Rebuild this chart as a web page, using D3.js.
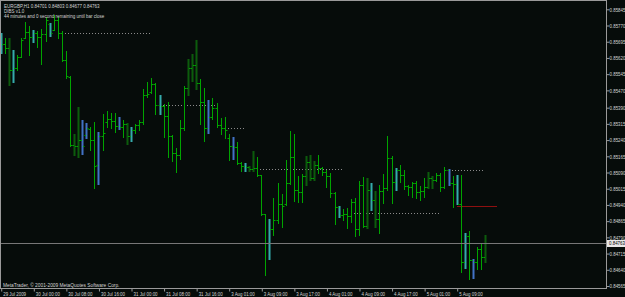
<!DOCTYPE html>
<html>
<head>
<meta charset="utf-8">
<script src="https://cdn.jsdelivr.net/npm/d3@7"></script>
<style>
	html, body { margin: 0; padding: 0; background: #060c0a; }
	svg { display: block; font-family: 'Liberation Sans', Arial, sans-serif; }
</style>
</head>
<body>
<svg id="chart" width="625" height="297"></svg>
<script>
// EURGBP H1 bars
const opens = [
	0.85712, 0.85684, 0.85666, 0.85564, 0.85573, 0.85624, 0.85712, 0.85740, 0.85717, 0.85735,
	0.85717, 0.85731, 0.85777, 0.85749, 0.85795, 0.85735, 0.85610, 0.85532, 0.85217, 0.85212,
	0.85240, 0.85263, 0.85291, 0.85240, 0.85124, 0.85258, 0.85323, 0.85337, 0.85328, 0.85305,
	0.85300, 0.85314, 0.85258, 0.85286, 0.85309, 0.85323, 0.85448, 0.85462, 0.85499, 0.85402,
	0.85397, 0.85351, 0.85258, 0.85180, 0.85170, 0.85295, 0.85481, 0.85573, 0.85587, 0.85504,
	0.85416, 0.85295, 0.85346, 0.85388, 0.85309, 0.85295, 0.85249, 0.85212, 0.85207, 0.85133,
	0.85119, 0.85115, 0.85106, 0.85110, 0.85078, 0.84897, 0.84763, 0.84828, 0.84869, 0.84944,
	0.84944, 0.85041, 0.85161, 0.85008, 0.84999, 0.85073, 0.85138, 0.85064, 0.85124, 0.85110,
	0.85092, 0.85073, 0.84994, 0.84930, 0.84892, 0.84897, 0.84888, 0.84953, 0.84828, 0.85031,
	0.84842, 0.85008, 0.84962, 0.84874, 0.85004, 0.85018, 0.85156, 0.85045, 0.85101, 0.85078,
	0.85027, 0.85022, 0.85041, 0.84999, 0.85004, 0.85022, 0.85064, 0.85055, 0.85078, 0.85022,
	0.85101, 0.85041, 0.85036, 0.84944, 0.84675, 0.84795, 0.84684, 0.84675, 0.84735, 0.84701
];
const highs = [
	0.85735, 0.85712, 0.85712, 0.85656, 0.85633, 0.85712, 0.85786, 0.85768, 0.85749, 0.85745,
	0.85754, 0.85809, 0.85782, 0.85819, 0.85809, 0.85745, 0.85652, 0.85536, 0.85268, 0.85393,
	0.85332, 0.85319, 0.85300, 0.85323, 0.85277, 0.85360, 0.85374, 0.85365, 0.85365, 0.85346,
	0.85332, 0.85319, 0.85300, 0.85314, 0.85332, 0.85476, 0.85508, 0.85527, 0.85504, 0.85448,
	0.85407, 0.85416, 0.85263, 0.85203, 0.85332, 0.85490, 0.85615, 0.85638, 0.85703, 0.85522,
	0.85481, 0.85425, 0.85434, 0.85411, 0.85342, 0.85346, 0.85268, 0.85254, 0.85231, 0.85138,
	0.85133, 0.85119, 0.85189, 0.85161, 0.85078, 0.84897, 0.84874, 0.84971, 0.85041, 0.84990,
	0.85147, 0.85282, 0.85268, 0.85073, 0.85082, 0.85166, 0.85170, 0.85143, 0.85170, 0.85115,
	0.85101, 0.85087, 0.84999, 0.84934, 0.84920, 0.84925, 0.84967, 0.84971, 0.85050, 0.85069,
	0.85064, 0.85041, 0.85004, 0.85031, 0.85082, 0.85258, 0.85166, 0.85110, 0.85124, 0.85101,
	0.85031, 0.85045, 0.85050, 0.85027, 0.85064, 0.85092, 0.85073, 0.85087, 0.85087, 0.85115,
	0.85106, 0.85073, 0.85078, 0.85078, 0.84809, 0.84819, 0.84689, 0.84744, 0.84763, 0.84803
];
const lows = [
	0.85643, 0.85643, 0.85494, 0.85508, 0.85564, 0.85624, 0.85712, 0.85633, 0.85694, 0.85670,
	0.85592, 0.85698, 0.85721, 0.85749, 0.85712, 0.85606, 0.85527, 0.85212, 0.85170, 0.85161,
	0.85175, 0.85249, 0.85194, 0.85018, 0.85036, 0.85194, 0.85300, 0.85295, 0.85277, 0.85291,
	0.85254, 0.85221, 0.85235, 0.85272, 0.85286, 0.85314, 0.85439, 0.85457, 0.85360, 0.85360,
	0.85254, 0.85161, 0.85143, 0.85092, 0.85152, 0.85286, 0.85448, 0.85513, 0.85476, 0.85314,
	0.85235, 0.85272, 0.85337, 0.85300, 0.85268, 0.85249, 0.85147, 0.85152, 0.85129, 0.85096,
	0.85096, 0.85096, 0.85096, 0.85073, 0.84892, 0.84615, 0.84689, 0.84800, 0.84856, 0.84837,
	0.84939, 0.85036, 0.84957, 0.84953, 0.84953, 0.85031, 0.85055, 0.85055, 0.85087, 0.85078,
	0.85022, 0.84976, 0.84851, 0.84883, 0.84869, 0.84832, 0.84860, 0.84795, 0.84800, 0.84837,
	0.84832, 0.84916, 0.84837, 0.84809, 0.84948, 0.85008, 0.84948, 0.85008, 0.85045, 0.85013,
	0.84985, 0.84976, 0.84971, 0.84962, 0.84976, 0.85018, 0.85018, 0.85050, 0.85004, 0.85018,
	0.85031, 0.84930, 0.84944, 0.84629, 0.84647, 0.84596, 0.84601, 0.84643, 0.84643, 0.84677
];
const closes = [
	0.85684, 0.85666, 0.85564, 0.85573, 0.85624, 0.85703, 0.85740, 0.85717, 0.85735, 0.85717,
	0.85731, 0.85795, 0.85735, 0.85795, 0.85735, 0.85610, 0.85536, 0.85217, 0.85212, 0.85240,
	0.85212, 0.85295, 0.85240, 0.85119, 0.85258, 0.85272, 0.85337, 0.85328, 0.85305, 0.85300,
	0.85314, 0.85258, 0.85286, 0.85309, 0.85323, 0.85448, 0.85453, 0.85499, 0.85402, 0.85397,
	0.85351, 0.85258, 0.85180, 0.85170, 0.85295, 0.85481, 0.85573, 0.85587, 0.85504, 0.85416,
	0.85295, 0.85346, 0.85388, 0.85309, 0.85295, 0.85286, 0.85212, 0.85207, 0.85133, 0.85119,
	0.85115, 0.85106, 0.85110, 0.85078, 0.84897, 0.84763, 0.84828, 0.84869, 0.84944, 0.84934,
	0.85041, 0.85161, 0.85008, 0.84999, 0.85073, 0.85138, 0.85064, 0.85124, 0.85110, 0.85092,
	0.85073, 0.84994, 0.84930, 0.84892, 0.84897, 0.84888, 0.84953, 0.84828, 0.85031, 0.84842,
	0.85008, 0.84962, 0.84874, 0.85004, 0.85018, 0.85156, 0.85045, 0.85101, 0.85078, 0.85027,
	0.85022, 0.85041, 0.84999, 0.85004, 0.85022, 0.85064, 0.85055, 0.85078, 0.85022, 0.85101,
	0.85041, 0.85036, 0.84944, 0.84675, 0.84795, 0.84684, 0.84675, 0.84735, 0.84698, 0.84763
];

// bars painted by the DIBS indicator
const insideBarsTeal = [0, 3, 8, 12, 32, 39, 60, 66, 83, 91, 97, 112, 114];
const insideBarsBlue = [20, 21, 24, 29, 51, 57, 110, 116];
const darkBars = [2, 18, 19, 31, 46, 47, 48, 61, 62, 75, 76, 77, 90, 92, 105, 106, 119];

// dotted DIBS levels
const levelFrom = [15, 39, 55, 63, 86, 110];
const levelTo = [37, 53, 60, 84, 108, 119];
const levelPrice = [0.85735, 0.85402, 0.85295, 0.85106, 0.84902, 0.85101];

// red signal line
const signalFrom = 112;
const signalTo = 122;
const signalPrice = 0.84937;

const lastPrice = 0.84763;

const priceTicks = [
	0.85845, 0.85770, 0.85695, 0.85620, 0.85545, 0.85470, 0.85390, 0.85315, 0.85240,
	0.85165, 0.85090, 0.85015, 0.84940, 0.84865, 0.84790, 0.84715, 0.84640, 0.84565
];
const timeTickBars = [0, 8, 16, 24, 32, 40, 48, 56, 64, 72, 80, 88, 96, 104, 112];
const timeTickLabels = [
	'29 Jul 2009', '30 Jul 00:00', '30 Jul 08:00', '30 Jul 16:00', '31 Jul 00:00',
	'31 Jul 08:00', '31 Jul 16:00', '3 Aug 01:00', '3 Aug 09:00', '3 Aug 17:00',
	'4 Aug 01:00', '4 Aug 09:00', '4 Aug 17:00', '5 Aug 01:00', '5 Aug 09:00'
];

const headerLines = [
	'EURGBP,H1  0.84701 0.84803 0.84677 0.84763',
	'DIBS v1.0',
	'44 minutes and 0 second remaining until bar close'
];
const copyright = 'MetaTrader, \u00a9 2001-2009 MetaQuotes Software Corp.';

const colors = {
	bg: '#060c0a',
	frame: '#9a9a9a',
	text: '#d4d4d4',
	bar: '#00a400',
	dark: '#0c5c0c',
	teal: '#35abab',
	blue: '#4272c6',
	level: '#8a8a8a',
	signal: '#8e1010',
	bid: '#777777'
};

const TXT_SCALE = 0.82;

class TerminalChart {
	constructor(params) {
		this.canvas = d3.select(params.el);
		this.width = params.width;
		this.height = params.height;
		this.right = 606;
		this.bottom = 288;

		this.xScale = d3.scaleLinear().domain([0, 119]).range([0.73, 485.2]);
		this.yScale = d3.scaleLinear().domain([0.84565, 0.85845]).range([286, 9.3]);

		this.canvas.append('rect')
			.attr('width', this.width)
			.attr('height', this.height)
			.attr('fill', colors.bg);

		this.canvas.append('defs').append('clipPath')
			.attr('id', 'plotClip')
			.append('rect')
			.attr('x', 1).attr('y', 1)
			.attr('width', this.right - 1)
			.attr('height', this.bottom - 1);

		this.plot = this.canvas.append('g').attr('clip-path', 'url(#plotClip)');
	}

	col(i) { return Math.round(this.xScale(i)); }
	row(p) { return Math.round(this.yScale(p)); }

	paintGraph() {
		this.paintLevels();
		this.paintBars();
		this.paintBidLine();
		this.paintFrame();
		this.paintAxis();
		this.paintTexts();
	}

	paintLevels() {
		this.plot.append('g').selectAll('line')
			.data(levelPrice)
			.join('line')
			.attr('x1', (d, k) => this.col(levelFrom[k]))
			.attr('x2', (d, k) => this.col(levelTo[k]))
			.attr('y1', d => this.row(d) + 0.5)
			.attr('y2', d => this.row(d) + 0.5)
			.attr('stroke', colors.level)
			.attr('stroke-width', 1)
			.attr('stroke-dasharray', '1,2');

		this.plot.append('line')
			.attr('x1', this.col(signalFrom))
			.attr('x2', this.col(signalTo))
			.attr('y1', this.row(signalPrice) + 0.5)
			.attr('y2', this.row(signalPrice) + 0.5)
			.attr('stroke', colors.signal)
			.attr('stroke-width', 1);
	}

	paintBars() {
		const bars = d3.range(opens.length).map(i => ({
			i,
			o: opens[i], h: highs[i], l: lows[i], c: closes[i],
			kind: insideBarsTeal.includes(i) ? 'teal'
				: insideBarsBlue.includes(i) ? 'blue'
				: darkBars.includes(i) ? 'dark' : 'bar'
		}));

		const g = this.plot.append('g').attr('class', 'bars')
			.selectAll('g')
			.data(bars)
			.join('g');

		g.append('rect')
			.attr('x', d => d.kind === 'bar' ? this.col(d.i) : this.col(d.i) - 0.5)
			.attr('width', d => d.kind === 'bar' ? 1 : 2)
			.attr('y', d => this.row(d.h))
			.attr('height', d => this.row(d.l) - this.row(d.h) + 1)
			.attr('fill', d => colors[d.kind]);

		g.append('rect')
			.attr('x', d => this.col(d.i) - 1.5)
			.attr('width', 1.5)
			.attr('y', d => this.row(d.o))
			.attr('height', 1)
			.attr('fill', colors.bar);

		g.append('rect')
			.attr('x', d => this.col(d.i) + 1)
			.attr('width', 1.5)
			.attr('y', d => this.row(d.c))
			.attr('height', 1)
			.attr('fill', colors.bar);
	}

	paintBidLine() {
		this.plot.append('line')
			.attr('x1', 1).attr('x2', this.right)
			.attr('y1', this.row(lastPrice) + 0.5)
			.attr('y2', this.row(lastPrice) + 0.5)
			.attr('stroke', colors.bid)
			.attr('stroke-width', 1);
	}

	paintFrame() {
		this.canvas.append('rect')
			.attr('x', 0.5).attr('y', 0.5)
			.attr('width', this.right)
			.attr('height', this.bottom)
			.attr('fill', 'none')
			.attr('stroke', colors.frame)
			.attr('stroke-width', 1);
	}

	paintAxis() {
		const yAxis = d3.axisRight(this.yScale)
			.tickValues(priceTicks)
			.tickSize(3)
			.tickPadding(0)
			.tickFormat(d3.format('.5f'));

		const Yaxis = this.canvas.append('g')
			.attr('transform', `translate(${this.right + 0.5},0)`)
			.call(yAxis);

		Yaxis.select('.domain').remove();
		Yaxis.selectAll('.tick line').attr('stroke', colors.frame);
		Yaxis.selectAll('.tick text')
			.attr('x', 3 / TXT_SCALE)
			.attr('transform', `scale(${TXT_SCALE},1)`)
			.attr('fill', colors.text)
			.attr('font-size', 5.4)
			.attr('font-family', 'Liberation Sans, Arial, sans-serif');

		// current price tag
		const tagY = this.row(lastPrice) + 0.5;
		this.canvas.append('rect')
			.attr('x', this.right + 1)
			.attr('y', tagY - 3.5)
			.attr('width', this.width - this.right - 1)
			.attr('height', 7)
			.attr('fill', '#e8e8e8');
		this.canvas.append('text')
			.attr('transform', `translate(${this.right + 3},${tagY}) scale(${TXT_SCALE},1)`)
			.attr('dy', '0.34em')
			.attr('font-size', 5.4)
			.attr('fill', '#000')
			.text(d3.format('.5f')(lastPrice));

		const xAxis = d3.axisBottom(this.xScale)
			.tickValues(timeTickBars)
			.tickSize(3)
			.tickPadding(1)
			.tickFormat((d, k) => timeTickLabels[k]);

		const Xaxis = this.canvas.append('g')
			.attr('transform', `translate(0.5,${this.bottom + 0.5})`)
			.call(xAxis);

		Xaxis.select('.domain').remove();
		Xaxis.selectAll('.tick line').attr('stroke', colors.frame);
		Xaxis.selectAll('.tick text')
			.attr('text-anchor', 'start')
			.attr('x', 1.5 / TXT_SCALE)
			.attr('transform', `scale(${TXT_SCALE},1)`)
			.attr('fill', colors.text)
			.attr('font-size', 5.4)
			.attr('font-family', 'Liberation Sans, Arial, sans-serif');
	}

	paintTexts() {
		this.canvas.append('g')
			.attr('transform', `translate(4,0) scale(${TXT_SCALE},1)`)
			.selectAll('text')
			.data(headerLines)
			.join('text')
			.attr('y', (d, k) => 7.6 + k * 5.4)
			.attr('font-size', 5.5)
			.attr('fill', colors.text)
			.text(d => d);

		this.canvas.append('text')
			.attr('transform', `translate(3,286.5) scale(0.88,1)`)
			.attr('font-size', 5.5)
			.attr('fill', colors.text)
			.text(copyright);
	}
}

const chart = new TerminalChart({ el: '#chart', width: 625, height: 297 });
chart.paintGraph();
</script>
</body>
</html>
